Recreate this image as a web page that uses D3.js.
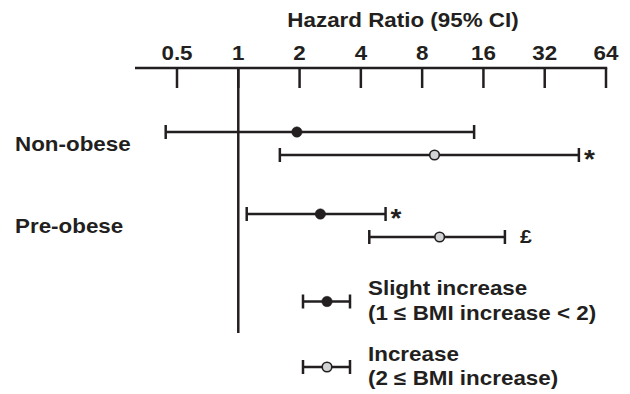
<!DOCTYPE html>
<meta charset="utf-8">

<head>
    <style>
        body {
            margin: 0;
            font-family: "Helvetica Neue", Helvetica, Arial, "Liberation Sans", sans-serif;
            background: #fff;
        }

        svg text {
            font-weight: bold;
            fill: #231f20;
        }

        .ci {
            stroke: #231f20;
            stroke-width: 2.5;
            fill: none;
        }
    </style>
</head>

<body>
    <div id="chart"></div>
    <script src="https://cdn.jsdelivr.net/npm/d3@7"></script>
    <script>
        // groups and the two BMI-change series
        var groups = ["Non-obese", "Pre-obese"];
        var seriesNames = ["Slight increase", "Increase"];
        var seriesNotes = ["(1 \u2264 BMI increase < 2)", "(2 \u2264 BMI increase)"];
        var tickValues = [0.5, 1, 2, 4, 8, 16, 32, 64];
        var tickLabels = ["0.5", "1", "2", "4", "8", "16", "32", "64"];

        // hazard ratios, lower and upper CI, per group
        var slightHR = [1.94, 2.53];
        var slightLow = [0.44, 1.10];
        var slightHigh = [14.4, 5.29];
        var increaseHR = [9.2, 9.75];
        var increaseLow = [1.60, 4.40];
        var increaseHigh = [47.1, 20.4];
        // significance marks next to each bar ("" = none)
        var slightMark = ["", "*"];
        var increaseMark = ["*", "\u00a3"];
    </script>
    <script>
        var width = 630,
            height = 394,
            sx = 1.12; // glyphs in the original are a little wide

        var ink = "#231f20",
            openFill = "#d1d3d4";

        var rows = [];
        groups.forEach(function (g, i) {
            rows.push({ group: g, s: 0, hr: slightHR[i], lo: slightLow[i], hi: slightHigh[i], mark: slightMark[i] });
            rows.push({ group: g, s: 1, hr: increaseHR[i], lo: increaseLow[i], hi: increaseHigh[i], mark: increaseMark[i] });
        });

        var svg = d3.select("#chart").append("svg")
            .attr("width", width)
            .attr("height", height);

        var x = d3.scaleLog().base(2)
            .domain([0.5, 64])
            .range([177, 606]);

        var y = d3.scalePoint()
            .domain(groups)
            .range([143.5, 225.5]);

        var offset = 11.5;

        function label(sel, tx, ty, txt, size, anchor) {
            return sel.append("text")
                .attr("transform", "translate(" + tx + "," + ty + ") scale(" + sx + ",1)")
                .attr("text-anchor", anchor || "start")
                .style("font-size", size + "px")
                .text(txt);
        }

        // top axis
        var axisY = 68;
        var axis = svg.append("g")
            .attr("transform", "translate(0," + axisY + ")");

        axis.append("line")
            .attr("class", "ci")
            .attr("x1", 135).attr("x2", x(64) + 1.2)
            .attr("y1", 0).attr("y2", 0);

        axis.selectAll(".tick")
            .data(tickValues)
            .enter().append("line")
            .attr("class", "ci")
            .attr("x1", function (d) { return x(d); })
            .attr("x2", function (d) { return x(d); })
            .attr("y1", 0)
            .attr("y2", 20);

        tickValues.forEach(function (d, i) {
            label(svg, x(d), 60, tickLabels[i], 20, "middle");
        });

        label(svg, 403, 27, "Hazard Ratio (95% CI)", 20, "middle");

        // reference line at HR = 1
        svg.append("line")
            .attr("class", "ci")
            .attr("x1", x(1)).attr("x2", x(1))
            .attr("y1", axisY).attr("y2", 333);

        // group labels
        groups.forEach(function (g) {
            label(svg, 15, y(g) + 7, g, 20);
        });

        function ciBar(g, x1, x2, xm, cy, s) {
            g.append("line").attr("class", "ci")
                .attr("x1", x1).attr("x2", x2).attr("y1", cy).attr("y2", cy);
            [x1, x2].forEach(function (cx) {
                g.append("line").attr("class", "ci")
                    .attr("x1", cx).attr("x2", cx).attr("y1", cy - 7).attr("y2", cy + 7);
            });
            g.append("circle")
                .attr("cx", xm).attr("cy", cy)
                .attr("r", s === 0 ? 5.2 : 4.8)
                .attr("fill", s === 0 ? ink : openFill)
                .attr("stroke", ink)
                .attr("stroke-width", s === 0 ? 0.5 : 1.6);
        }

        var bars = svg.append("g");
        rows.forEach(function (r) {
            var cy = y(r.group) + (r.s === 0 ? -offset : offset);
            ciBar(bars, x(r.lo), x(r.hi), x(r.hr), cy, r.s);
            if (r.mark === "*") {
                label(bars, x(r.hi) + 5, cy + 13, "*", 25);
            } else if (r.mark) {
                label(bars, x(r.hi) + 15, cy + 6, r.mark, 19);
            }
        });

        // legend
        var legend = svg.append("g");
        var legendY = [301.5, 367];
        seriesNames.forEach(function (name, s) {
            var cy = legendY[s];
            ciBar(legend, 303, 350, 327, cy, s);
            label(legend, 368, cy - (s === 0 ? 7 : 6), name, 20);
            label(legend, 368, cy + (s === 0 ? 18 : 18), seriesNotes[s], 20);
        });
    </script>
</body>
